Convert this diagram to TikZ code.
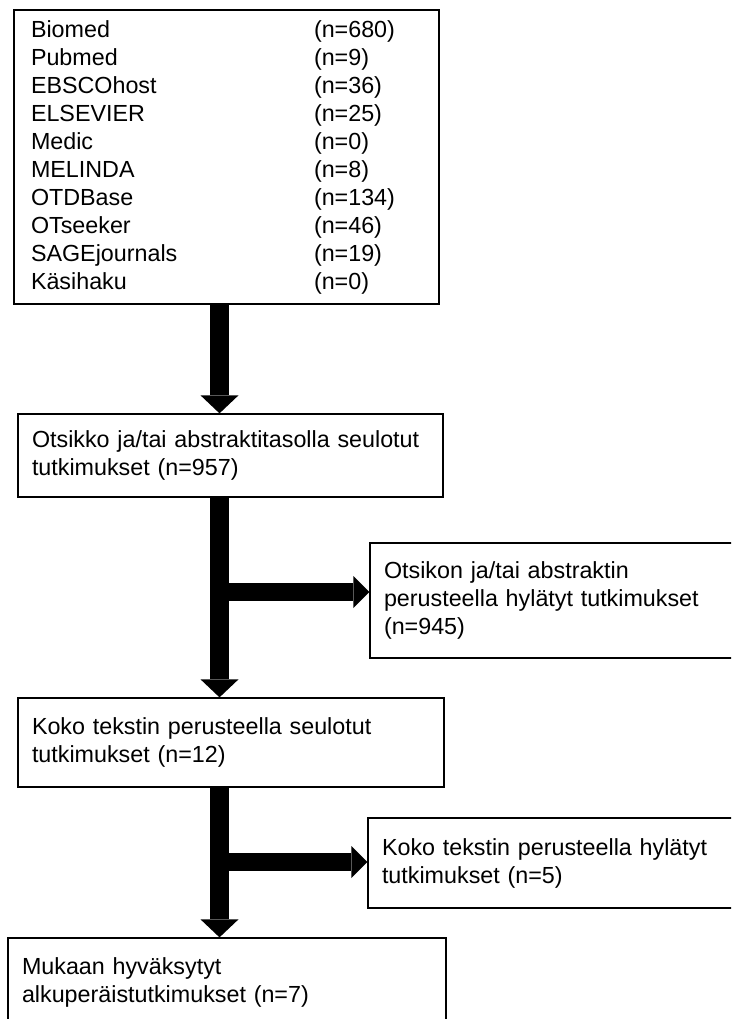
\documentclass[tikz,border=0pt]{standalone}
\usepackage{fontspec}
\setmainfont{Liberation Sans}
\usetikzlibrary{arrows.meta, positioning}

\newcommand{\dbline}[2]{\makebox[283pt][l]{#1}(n=#2)}

\begin{document}
\begin{tikzpicture}[x=1pt, y=-1pt,
    box/.style={draw, line width=1.3pt, rectangle, align=left, inner xsep=14pt, inner ysep=0pt,
        font=\fontsize{23.3}{28}\selectfont},
    flow/.style={line width=19.5pt, -{Triangle[width=38pt, length=18pt, line width'=0pt]}},
    branch/.style={line width=18pt, -{Triangle[width=32pt, length=16pt, line width'=0pt]}}]
    \useasboundingbox (0,0) rectangle (731,1019);
    \clip (0,0) rectangle (731,1019);

    % Databases
    \node[box, minimum width=425pt, minimum height=294pt, text width=391pt, inner xsep=17pt] (sources) at (226.5,157) {%
        \dbline{Biomed}{680}\\
        \dbline{Pubmed}{9}\\
        \dbline{EBSCOhost}{36}\\
        \dbline{ELSEVIER}{25}\\
        \dbline{Medic}{0}\\
        \dbline{MELINDA}{8}\\
        \dbline{OTDBase}{134}\\
        \dbline{OTseeker}{46}\\
        \dbline{SAGEjournals}{19}\\
        \dbline{Käsihaku}{0}};

    % Screening steps
    \node[box, minimum width=425pt, minimum height=83pt, text width=397pt] (screened) at (230.5,455.5)
        {Otsikko ja/tai abstraktitasolla seulotut\\tutkimukset (n=957)};
    \node[box, minimum width=426pt, minimum height=89pt, text width=398pt] (fulltext) at (231,742.5)
        {Koko tekstin perusteella seulotut\\tutkimukset (n=12)};
    \node[box, minimum width=438pt, minimum height=89pt, text width=410pt] (included) at (227,982.5)
        {Mukaan hyväksytyt\\alkuperäistutkimukset (n=7)};

    % Excluded
    \node[box, minimum width=375pt, minimum height=115pt, text width=347pt] (excluded1) at (557.5,600.5)
        {Otsikon ja/tai abstraktin\\perusteella hylätyt tutkimukset\\(n=945)};
    \node[box, minimum width=377pt, minimum height=90pt, text width=349pt] (excluded2) at (556.5,863)
        {Koko tekstin perusteella hylätyt\\tutkimukset (n=5)};

    % Arrows
    \coordinate (axis) at (219.5,0);
    \coordinate (split1) at (219.5,592);
    \coordinate (split2) at (219.5,862);
    \draw[flow] (sources.south -| axis) -- (screened.north -| axis);
    \draw[flow] (screened.south -| axis) -- (fulltext.north -| axis);
    \draw[flow] (fulltext.south -| axis) -- (included.north -| axis);
    \draw[branch] (split1) -- (split1 -| excluded1.west);
    \draw[branch] (split2) -- (split2 -| excluded2.west);
\end{tikzpicture}
\end{document}
